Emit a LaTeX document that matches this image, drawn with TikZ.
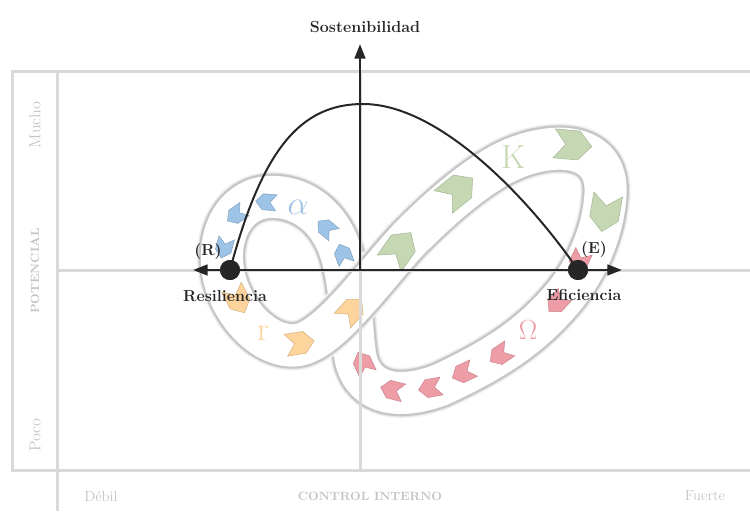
\documentclass[tikz,border=0pt]{standalone}
\usepackage{fontspec}
\usepackage{tikz}
\usetikzlibrary{arrows.meta}

\definecolor{inkdark}{HTML}{262626}
\definecolor{framegray}{HTML}{D9D9D9}
\definecolor{faintgray}{HTML}{C4C4C4}
\definecolor{alphablue}{HTML}{9DC3E6}
\definecolor{kgreen}{HTML}{C5D8B3}
\definecolor{rorange}{HTML}{FDD49B}
\definecolor{omegared}{HTML}{EE9CA6}

% centre line of the band (pixel units, y pointing down)
\newcommand{\bandin}{(222,262) .. controls (224,305) and (262,350) .. (298,345)}
\newcommand{\bandcross}{.. controls (330,340) and (375,275) .. (410,238)}
\newcommand{\bandout}{.. controls (440,208) and (480,172) .. (515,158)}
\newcommand{\bandrest}{.. controls (560,140) and (612,145) .. (605,200)
  .. controls (602,235) and (585,275) .. (555,307)
  .. controls (525,340) and (490,362) .. (440,385)
  .. controls (400,400) and (365,395) .. (356,360)
  .. controls (351,335) and (352,285) .. (340,250)
  .. controls (328,215) and (300,195) .. (268,197)
  .. controls (240,199) and (220,225) .. cycle}

\begin{document}
\begin{tikzpicture}[x=0.75pt, y=-0.75pt,
  frame/.style={framegray, line width=2.25pt},
  axis/.style={inkdark, line width=2pt},
  dot/.style={circle, fill=inkdark, inner sep=0pt, minimum size=15pt},
  darklabel/.style={text=inkdark, font=\fontsize{12}{14}\selectfont\bfseries, inner sep=0pt},
  faintlabel/.style={text=faintgray, font=\fontsize{11}{13}\selectfont, inner sep=0pt},
  faintbold/.style={text=faintgray, font=\fontsize{9}{11}\selectfont\bfseries, inner sep=0pt},
  phase/.style={inner sep=0pt, font=\fontsize{25}{25}\selectfont},
  chev/.pic={\path[pic actions] (-13,-10) -- (4,-10) -- (13,0) -- (4,10) -- (-13,10) -- (-5,0) -- cycle;}]
  \useasboundingbox (0,0) rectangle (750,511);

  % figure-eight band
  \foreach \w/\c in {38pt/gray!7, 36.5pt/gray!18, 35pt/gray!45, 31.5pt/white}
    \draw[line width=\w, \c] \bandin \bandcross \bandout \bandrest;
  % r -> K stretch passes over the Omega -> alpha stretch
  \foreach \w/\c in {38pt/gray!7, 36.5pt/gray!18, 35pt/gray!45}
    \draw[line width=\w, \c] (298,345) \bandcross;
  \draw[line width=31.5pt, white] \bandin \bandcross \bandout;

  % chevrons along the band
  \foreach \x/\y/\a in {343/254/110, 326/228/140, 266/202/175, 236/215/215, 224/248/255}
    \pic[fill=alphablue, draw=alphablue!85!black, line width=.4pt, rotate=\a, scale=.8] at (\x,\y) {chev};
  \foreach \x/\y/\a in {238/300/-63, 300/343/9, 352/310/48}
    \pic[fill=rorange, draw=rorange!85!black, line width=.4pt, rotate=\a, scale=1.1] at (\x,\y) {chev};
  \foreach \x/\y/\a in {400/248/55, 458/190/39, 573/145/-5, 605/213/-100}
    \pic[fill=kgreen, draw=kgreen!85!black, line width=.4pt, rotate=\a, scale=1.45] at (\x,\y) {chev};
  \foreach \x/\y/\a in {579/262/245, 557/303/227, 500/355/214, 463/373/205, 430/388/190, 392/390/166, 363/363/115}
    \pic[fill=omegared, draw=omegared!85!black, line width=.4pt, rotate=\a, scale=.9] at (\x,\y) {chev};

  % phase names
  \node[phase, text=alphablue] (alab) at (298,207) {$\alpha$};
  \node[phase, text=kgreen] (klab) at (513,157) {K};
  \node[phase, text=omegared, font=\fontsize{21}{21}\selectfont] (olab) at (528,330) {$\Omega$};
  \node[phase, text=rorange] (rlab) at (263,333) {r};

  % frame
  \draw[frame] (750,71) -- (12,71) -- (12,470) -- (750,470);
  \draw[frame] (57,71) -- (57,511);
  \draw[frame] (57,270) -- (750,270);
  \draw[frame] (360,71) -- (360,470);

  \node[faintlabel, font=\fontsize{12}{14}\selectfont, rotate=90] (mucho) at (35,125) {Mucho};
  \node[faintbold, rotate=90] (pot) at (35,271) {POTENCIAL};
  \node[faintlabel, font=\fontsize{12}{14}\selectfont, rotate=90] (poco) at (35,435) {Poco};
  \node[faintlabel] (debil) at (101,496) {Débil};
  \node[faintbold] (ctrl) at (370,496) {CONTROL INTERNO};
  \node[faintlabel] (fuerte) at (705,496) {Fuerte};

  % axes
  \coordinate (O) at (360,270);
  \coordinate (axL) at (193,270);
  \coordinate (axR) at (622,270);
  \coordinate (axT) at (360,44);
  \node[dot] (R) at (230,270) {};
  \node[dot] (E) at (578,270) {};
  \draw[inkdark, line width=1.5pt] (R.center) .. controls (262,150) and (300,104) .. (363,104)
    .. controls (440,104) and (530,200) .. (E.center);
  \draw[axis, {Triangle[length=11pt,width=8pt]}-{Triangle[length=11pt,width=8pt]}] (axL) -- (axR);
  \draw[axis, -{Triangle[length=11pt,width=8pt]}] (O) -- (axT);
  \node[dot] at (R) {};
  \node[dot] at (E) {};

  \node[darklabel] (sost) at (365,27) {Sostenibilidad};
  \node[darklabel] (rtag) at (208,252) {(R)};
  \node[darklabel] (res) at (225,296) {Resiliencia};
  \node[darklabel] (etag) at (594,250) {(E)};
  \node[darklabel] (efi) at (584,295) {Eficiencia};
\end{tikzpicture}
\end{document}
